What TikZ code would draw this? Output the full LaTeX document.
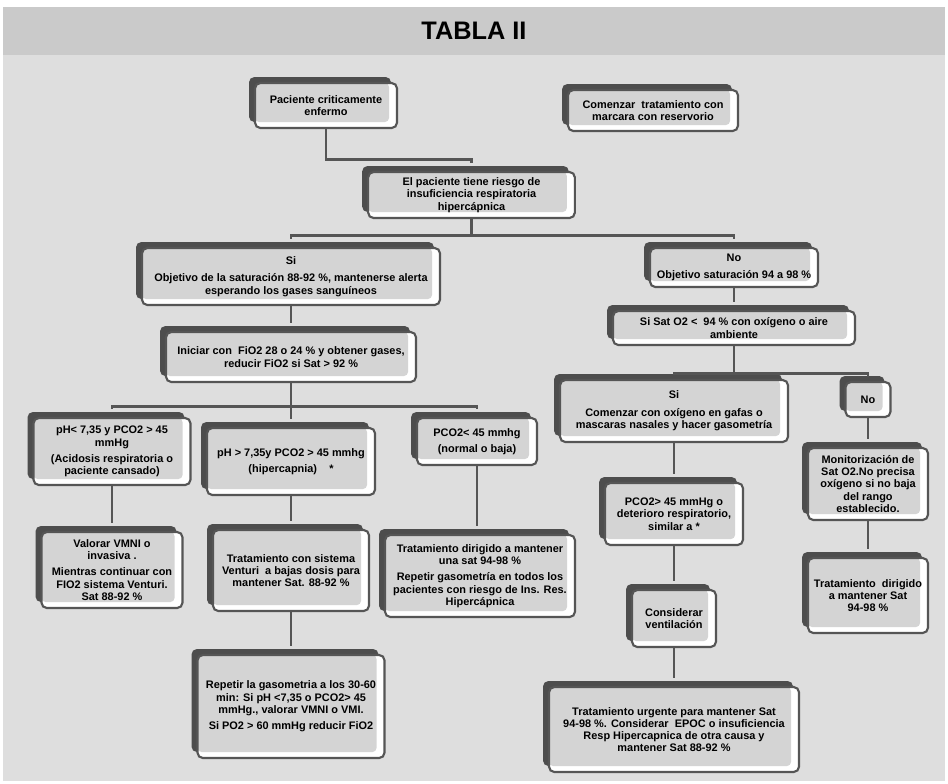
\documentclass[tikz,border=0pt]{standalone}
\usepackage{fontspec}
\setmainfont{Liberation Sans}
\usepackage{tikz}
\usetikzlibrary{shadows}
\definecolor{bggray}{HTML}{DEDEDE}
\definecolor{bandgray}{HTML}{CACACA}
\definecolor{boxfill}{HTML}{D4D4D4}
\definecolor{boxline}{HTML}{555555}
\definecolor{shadegray}{HTML}{4D4D4D}
\definecolor{linkgray}{HTML}{555555}

\begin{document}
\begin{tikzpicture}[
  x=0.75pt, y=-0.75pt,
  box/.style={draw=boxline, line width=1.6pt, fill=white, rounded corners=4pt,
    align=center, inner sep=2pt, font=\fontsize{8.2}{9.2}\selectfont\bfseries,
    drop shadow={shadow xshift=-4.5pt, shadow yshift=4.5pt, fill=shadegray, opacity=1},
    path picture={\fill[boxfill, rounded corners=3pt]
      (path picture bounding box.north west) rectangle
      ([xshift=-6pt, yshift=4.5pt]path picture bounding box.south east);}},
  link/.style={draw=linkgray, line width=2.2pt},
]
% Background
\fill[white] (0,0) rectangle (948,783);
\fill[bandgray] (3,7) rectangle (945,55);
\fill[bggray] (3,55) rectangle (945,781);
\node[font=\fontsize{19}{20}\selectfont\bfseries] (title) at (474,31) {TABLA II};

% Top
\node[box, minimum width=106.5pt, minimum height=33.75pt] (pac) at (326,105.5) {Paciente criticamente\\enfermo};
\node[box, minimum width=127.5pt, minimum height=30.75pt] (reserv) at (653,110.5) {Comenzar\ \ tratamiento con\\marcara con reservorio};
\node[box, minimum width=155pt, minimum height=34.5pt] (riesgo) at (471.5,195) {El paciente tiene riesgo de\\insuficiencia respiratoria\\hipercápnica};

% Left branch
\node[box, minimum width=223.5pt, minimum height=42.75pt] (si1) at (291,276.5) {Si\\[4pt]Objetivo de la saturación 88-92 \%, mantenerse alerta\\esperando los gases sanguíneos};
\node[box, minimum width=187.5pt, minimum height=37.5pt] (ini) at (291,357) {Iniciar con\ \ FiO2 28 o 24 \% y obtener gases,\\reducir FiO2 si Sat > 92 \%};
\node[box, minimum width=117.75pt, minimum height=50.25pt] (acid) at (112,451.5) {pH< 7,35 y PCO2 > 45\\mmHg\\[3pt](Acidosis respiratoria o\\paciente cansado)};
\node[box, minimum width=126pt, minimum height=50.25pt] (hiper) at (291,461.5) {pH > 7,35y PCO2 > 45 mmhg\\[3pt](hipercapnia)\ \ \ \ *};
\node[box, minimum width=90pt, minimum height=35.25pt] (pcobaja) at (477,441.5) {PCO2< 45 mmhg\\[3pt](normal o baja)};
\node[box, minimum width=105.75pt, minimum height=57pt] (vmni) at (112,570) {Valorar VMNI o\\invasiva .\\[3pt]Mientras continuar con\\FIO2 sistema Venturi.\\Sat 88-92 \%};
\node[box, minimum width=117pt, minimum height=60.75pt] (venturi) at (291,570.5) {Tratamiento con sistema\\Venturi\ \ a bajas dosis para\\mantener Sat. 88-92 \%};
\node[box, minimum width=142.5pt, minimum height=61.5pt] (dirigido) at (480,576) {Tratamiento dirigido a mantener\\una sat 94-98 \%\\[3pt]Repetir gasometría en todos los\\pacientes con riesgo de Ins. Res.\\Hipercápnica};
\node[box, minimum width=140.25pt, minimum height=77.25pt] (repetir) at (291,706.5) {Repetir la gasometria a los 30-60\\min: Si pH <7,35 o PCO2> 45\\mmHg., valorar VMNI o VMI.\\[3pt]Si PO2 > 60 mmHg reducir FiO2};

% Right branch
\node[box, minimum width=126pt, minimum height=29.25pt] (no1) at (734,267.5) {No\\[4pt]Objetivo saturación 94 a 98 \%};
\node[box, minimum width=181.5pt, minimum height=25.5pt] (sat) at (734,328) {Si Sat O2 <\ \ 94 \% con oxígeno o aire\\ambiente};
\node[box, minimum width=171pt, minimum height=46.5pt] (si2) at (674,411) {Si\\[4pt]Comenzar con oxígeno en gafas o\\mascaras nasales y hacer gasometría};
\node[box, minimum width=33.75pt, minimum height=26.25pt] (no2) at (868,399.5) {No};
\node[box, minimum width=90pt, minimum height=54pt] (monit) at (868,484) {Monitorización de\\Sat O2.No precisa\\oxígeno si no baja\\del rango\\establecido.};
\node[box, minimum width=103.5pt, minimum height=46.5pt] (pcoalta) at (674,514) {PCO2> 45 mmHg o\\deterioro respiratorio,\\similar a *};
\node[box, minimum width=63pt, minimum height=42.75pt] (vent) at (674,618.5) {Considerar\\ventilación};
\node[box, minimum width=90pt, minimum height=56.25pt] (mantener) at (868,595.5) {Tratamiento\ \ dirigido\\a mantener Sat\\94-98 \%};
\node[box, minimum width=187.5pt, minimum height=63.75pt] (urgente) at (674,729.5) {Tratamiento urgente para mantener Sat\\94-98 \%. Considerar\ \ EPOC o insuficiencia\\Resp Hipercapnica de otra causa y\\mantener Sat 88-92 \%};

% Connectors
\draw[link, shorten >=6pt] (pac.south) -- ++(0,30) -| (riesgo.north);
\draw[link] (riesgo.south) -- ++(0,16) coordinate (bus1);
\draw[link, shorten <=6pt, shorten >=6pt] (si1.north) |- (bus1) -| (no1.north);
\draw[link, shorten >=6pt] (si1.south) -- (ini.north);
\draw[link] (ini.south) -- ++(0,23) coordinate (bus2);
\draw[link, shorten <=6pt, shorten >=6pt] (acid.north) |- (bus2) -| (pcobaja.north);
\draw[link, shorten >=6pt] (bus2) -- (hiper.north);
\draw[link, shorten >=6pt] (acid.south) -- (vmni.north);
\draw[link, shorten >=6pt] (hiper.south) -- (venturi.north);
\draw[link, shorten >=6pt] (venturi.south) -- (repetir.north);
\draw[link, shorten >=6pt] (pcobaja.south) -- (pcobaja.south |- dirigido.north);
\draw[link, shorten >=6pt] (no1.south) -- (sat.north);
\draw[link] (sat.south) -- ++(0,27) coordinate (bus3);
\draw[link, shorten <=3pt, shorten >=3pt] (si2.north) |- (bus3) -| (no2.north);
\draw[link, shorten >=6pt] (si2.south) -- (pcoalta.north);
\draw[link, shorten >=6pt] (pcoalta.south) -- (vent.north);
\draw[link, shorten >=6pt] (vent.south) -- (urgente.north);
\draw[link, shorten >=6pt] (no2.south) -- (monit.north);
\draw[link, shorten >=6pt] (monit.south) -- (mantener.north);

\useasboundingbox (0,0) rectangle (948,783);
\end{tikzpicture}
\end{document}
